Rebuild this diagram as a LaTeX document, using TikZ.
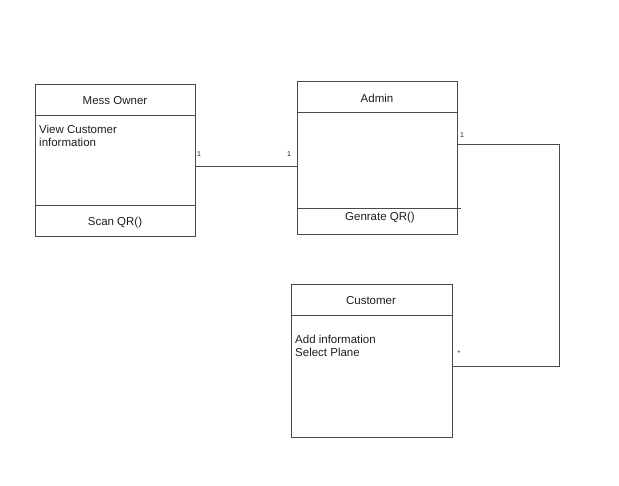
\documentclass[tikz,border=0pt]{standalone}
\usepackage{fontspec}
\setmainfont{Liberation Sans}
\usepackage{xcolor}
\usepackage{tikz}
\usetikzlibrary{positioning,calc}
\definecolor{edge}{HTML}{4A4A4A}
\definecolor{ink}{HTML}{1E1E1E}
\tikzset{
  classbox/.style={draw=edge,line width=0.9pt,minimum width=160pt,
                   minimum height=152pt,inner sep=0pt},
  divider/.style={draw=edge,line width=0.9pt},
  title/.style={font=\fontsize{11.5}{13}\selectfont,text=ink,inner sep=0pt},
  member/.style={font=\fontsize{11.5}{13.5}\selectfont,text=ink,align=left,
                 inner sep=0pt,anchor=north west},
  mult/.style={font=\fontsize{7}{8}\selectfont,text=ink,inner sep=0pt},
  assoc/.style={draw=edge,line width=0.9pt},
}
\begin{document}
\begin{tikzpicture}[x=1pt,y=-1pt]
  \useasboundingbox (0,0) rectangle (619,486);
  % classes
  \node[classbox] (owner) at (115,160) {};
  \node[classbox,minimum height=153pt] (admin) at (377,157.5) {};
  \node[classbox,minimum width=161pt,minimum height=153pt] (customer) at (371.5,360.5) {};
  % compartments
  \draw[divider] ($(owner.north west)+(0,-32pt)$) -- ($(owner.north east)+(0,-32pt)$);
  \draw[divider] ($(owner.south west)+(0,31pt)$) -- ($(owner.south east)+(0,31pt)$);
  \draw[divider] ($(admin.north west)+(0,-32pt)$) -- ($(admin.north east)+(0,-32pt)$);
  \draw[divider] ($(admin.south west)+(0,26pt)$) -- ($(admin.south east)+(4pt,26pt)$);
  \draw[divider] ($(customer.north west)+(0,-32pt)$) -- ($(customer.north east)+(0,-32pt)$);
  % texts
  \node[title] (ownername) at (115,101) {Mess Owner};
  \node[member] (ownerattr) at (39,124.5) {View Customer\\information};
  \node[title] (ownerop) at (115,222.5) {Scan QR()};
  \node[title] (adminname) at (377,98) {Admin};
  \node[title] (adminop) at (380,217.5) {Genrate QR()};
  \node[title] (custname) at (371,301) {Customer};
  \node[member] (custattr) at (295,334.5) {Add information\\Select Plane};
  % associations
  \draw[assoc] ([yshift=-6pt]owner.east) -- ([yshift=-8.5pt]admin.west);
  \draw[assoc] ([yshift=13.5pt]admin.east) -- ++(102,0) |- ([yshift=-5.5pt]customer.east);
  \node[mult] (m1) at (199,154) {1};
  \node[mult] (m2) at (289,154) {1};
  \node[mult] (m3) at (462,135) {1};
  \node[mult] (m4) at (459,353) {*};
\end{tikzpicture}
\end{document}
